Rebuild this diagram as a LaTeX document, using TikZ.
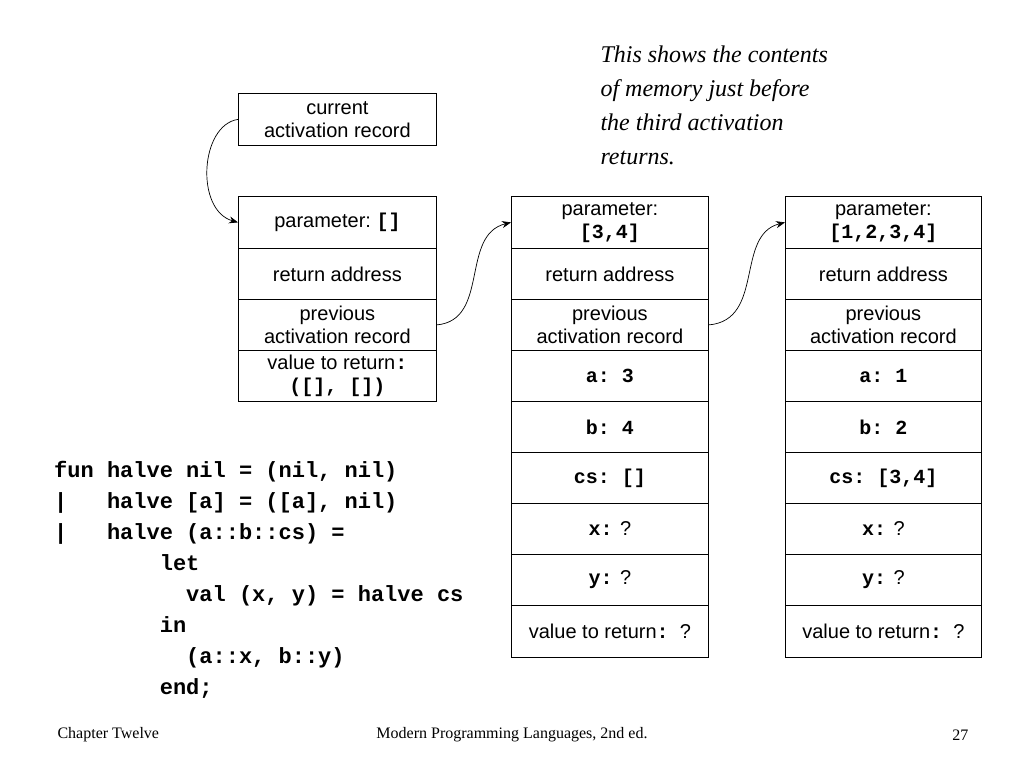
\documentclass[tikz,border=0pt]{standalone}
\usepackage{fontspec}
\usetikzlibrary{arrows.meta}
\setmainfont{Liberation Serif}
\setsansfont{Liberation Sans}
\setmonofont{Liberation Mono}
\begin{document}
\begin{tikzpicture}[x=1pt,y=-1pt,
  cell/.style={draw,line width=0.8pt,minimum width=#1,minimum height=51pt,inner sep=0pt,align=center,font=\sffamily\fontsize{20}{23}\selectfont,anchor=north west},
  cell/.default=198pt,
  arr/.style={-{Stealth[length=9pt,width=7pt]},line width=0.7pt}]
\useasboundingbox (0,0) rectangle (1024,768);
\fill[white] (0,0) rectangle (1024,768);
\newcommand\tb[1]{{\ttfamily\bfseries #1}}
% current
\node[cell,minimum height=52pt] (cur) at (238,93) {current\\activation record};
% column 1
\node[cell,minimum height=52pt] (p1) at (238,196) {parameter:\ \tb{[]}};
\node[cell] (r1) at (238,248) {return address};
\node[cell] (v1) at (238,299) {previous\\activation record};
\node[cell] (t1) at (238,350) {value to return\tb{:}\\\tb{([], [])}};
% column 2
\node[cell,minimum height=52pt,minimum width=197pt] (p2) at (511,196) {parameter:\\\tb{[3,4]}};
\node[cell,minimum width=197pt] (r2) at (511,248) {return address};
\node[cell,minimum width=197pt] (v2) at (511,299) {previous\\activation record};
\node[cell,minimum width=197pt] (a2) at (511,350) {\tb{a: 3}};
\node[cell,minimum width=197pt] (b2) at (511,401) {\tb{b: 4}};
\node[cell,minimum width=197pt] (c2) at (511,452) {\tb{cs: []}};
\node[cell,minimum width=197pt] (x2) at (511,503) {\tb{x:} ?};
\node[cell,minimum width=197pt] (y2) at (511,554) {\tb{y:} ?};
\node[cell,minimum width=197pt,minimum height=52pt] (w2) at (511,605) {value to return\tb{:}\ \ ?};
% column 3
\node[cell,minimum height=52pt,minimum width=196pt] (p3) at (785,196) {parameter:\\\tb{[1,2,3,4]}};
\node[cell,minimum width=196pt] (r3) at (785,248) {return address};
\node[cell,minimum width=196pt] (v3) at (785,299) {previous\\activation record};
\node[cell,minimum width=196pt] (a3) at (785,350) {\tb{a: 1}};
\node[cell,minimum width=196pt] (b3) at (785,401) {\tb{b: 2}};
\node[cell,minimum width=196pt] (c3) at (785,452) {\tb{cs: [3,4]}};
\node[cell,minimum width=196pt] (x3) at (785,503) {\tb{x:} ?};
\node[cell,minimum width=196pt] (y3) at (785,554) {\tb{y:} ?};
\node[cell,minimum width=196pt,minimum height=52pt] (w3) at (785,605) {value to return\tb{:}\ \ ?};
% arrows
\draw[arr] (cur.west) .. controls (200,125) and (195,210) .. (p1.west);
\draw[arr] (v1.east) .. controls (490,320) and (460,235) .. (p2.west);
\draw[arr] (v2.east) .. controls (765,320) and (735,235) .. (p3.west);
% note
\node[anchor=north west,align=left,font=\itshape\fontsize{24}{34}\selectfont] (note) at (597,42) {This shows the contents\\of memory just before\\the third activation\\returns.};
% code
\node[anchor=north west,align=left,font=\ttfamily\bfseries\fontsize{22}{31}\selectfont,inner sep=0pt] (code) at (54,461) {fun halve nil = (nil, nil)\\
|\ \ \ halve [a] = ([a], nil)\\
|\ \ \ halve (a::b::cs) =\\
\ \ \ \ \ \ \ \ let\\
\ \ \ \ \ \ \ \ \ \ val (x, y) = halve cs\\
\ \ \ \ \ \ \ \ in\\
\ \ \ \ \ \ \ \ \ \ (a::x, b::y)\\
\ \ \ \ \ \ \ \ end;};
% footer
\node[anchor=west,font=\fontsize{16}{18}\selectfont] (f1) at (54,735) {Chapter Twelve};
\node[font=\fontsize{16}{18}\selectfont] (f2) at (512,735) {Modern Programming Languages, 2nd ed.};
\node[anchor=east,font=\fontsize{16}{18}\selectfont] (f3) at (972,735) {27};
\end{tikzpicture}
\end{document}
